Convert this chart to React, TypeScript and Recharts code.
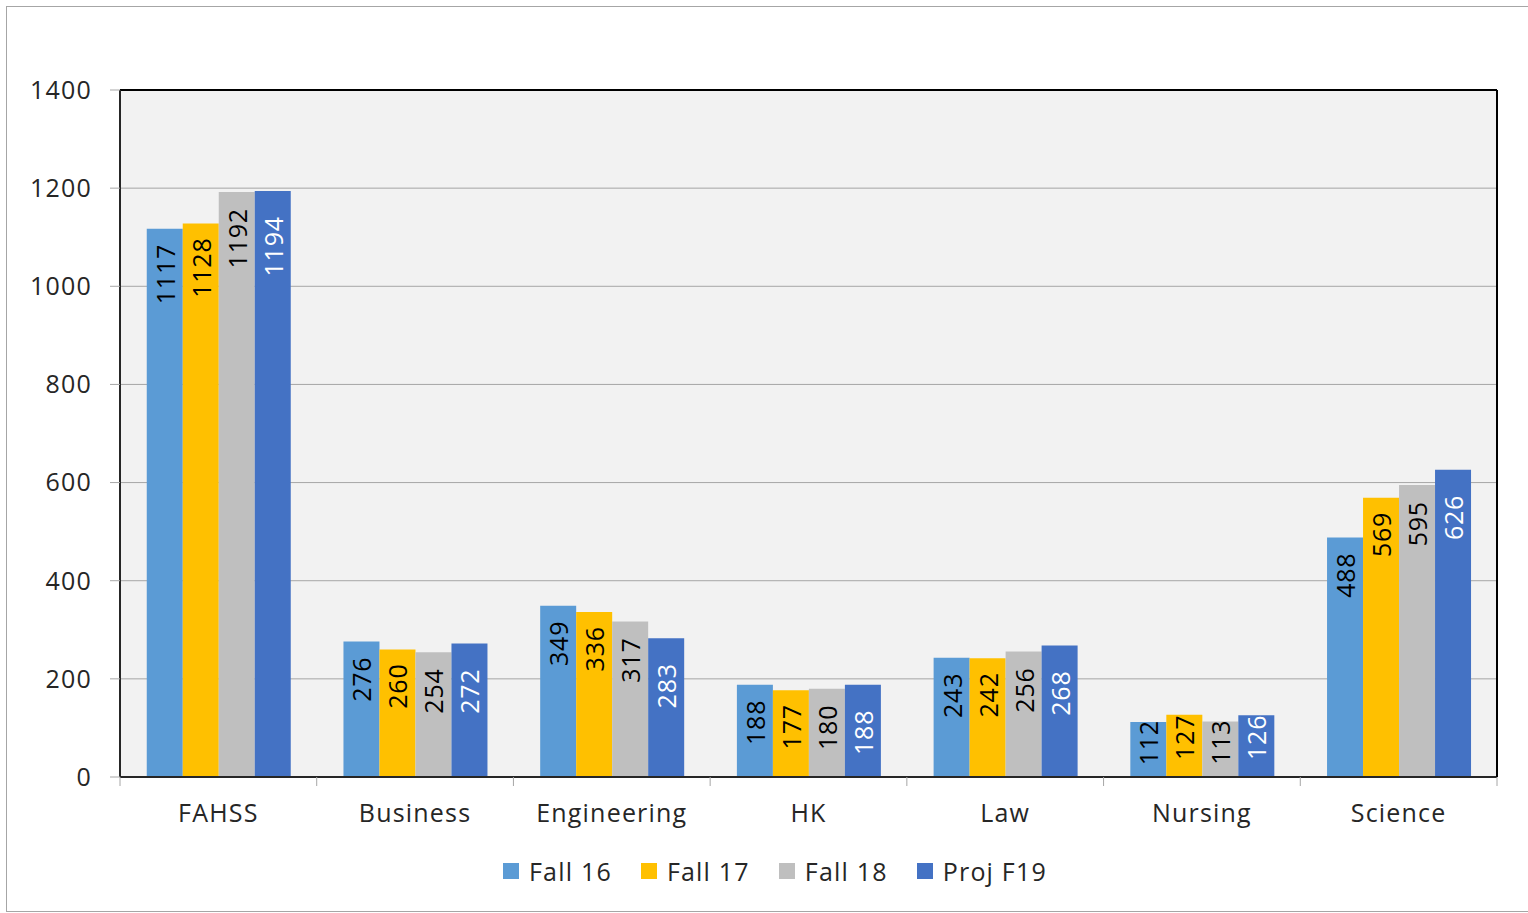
import React from "react";
import {
  Bar,
  BarChart,
  CartesianGrid,
  LabelList,
  Legend,
  ReferenceLine,
  XAxis,
  YAxis,
} from "recharts";

const faculties = ["FAHSS", "Business", "Engineering", "HK", "Law", "Nursing", "Science"];
const fall16 = [1117, 276, 349, 188, 243, 112, 488];
const fall17 = [1128, 260, 336, 177, 242, 127, 569];
const fall18 = [1192, 254, 317, 180, 256, 113, 595];
const projF19 = [1194, 272, 283, 188, 268, 126, 626];
const yTicks = [0, 200, 400, 600, 800, 1000, 1200, 1400];

const series = [
  { key: "fall16", name: "Fall 16", color: "#5b9bd5", text: "#000000", gap: 15 },
  { key: "fall17", name: "Fall 17", color: "#ffc000", text: "#000000", gap: 14 },
  { key: "fall18", name: "Fall 18", color: "#bfbfbf", text: "#000000", gap: 16 },
  { key: "projF19", name: "Proj F19", color: "#4472c4", text: "#ffffff", gap: 25 },
];

const data = faculties.map((faculty, i) => ({
  faculty,
  fall16: fall16[i],
  fall17: fall17[i],
  fall18: fall18[i],
  projF19: projF19[i],
}));

const FONT = "'Open Sans', 'Noto Sans', sans-serif";
const TEXT = "#262626";
const SPACING = 1.2;

// rotated value label, pinned near the bar top but kept inside short bars
function BarValue(props: any) {
  const { x, y, width, height, value, fill, gap } = props;
  const cx = Number(x) + Number(width) / 2;
  const top = Number(y);
  const bottom = top + Number(height);
  const len = String(value).length * (25 * 0.572 + 0.8);
  let ty = top + gap;
  if (ty + len > bottom - 17) ty = Math.max(top - 2, bottom - 17 - len);
  return (
    <text
      x={cx}
      y={ty}
      transform={`rotate(-90 ${cx} ${ty})`}
      textAnchor="end"
      dominantBaseline="central"
      fill={fill}
      fontSize={25}
      letterSpacing={0.8}
      fontFamily={FONT}
    >
      {value}
    </text>
  );
}

function CategoryTick(props: any) {
  const { x, y, payload, index } = props;
  const half = payload.offset || 0;
  const axisY = y - 9;
  return (
    <g>
      <line x1={x - half} y1={axisY} x2={x - half} y2={axisY + 9} stroke="#a6a6a6" />
      {index === faculties.length - 1 && (
        <line x1={x + half} y1={axisY} x2={x + half} y2={axisY + 9} stroke="#a6a6a6" />
      )}
      <text
        x={x}
        y={y + 26}
        textAnchor="middle"
        dominantBaseline="central"
        fill={TEXT}
        fontSize={25}
        letterSpacing={SPACING}
        fontFamily={FONT}
      >
        {payload.value}
      </text>
    </g>
  );
}

function LegendBox() {
  return (
    <div style={{ display: "flex", alignItems: "center", height: 32, fontFamily: FONT }}>
      {series.map((s, i) => (
        <div
          key={s.key}
          style={{ display: "flex", alignItems: "center", marginLeft: i === 0 ? 0 : 29 }}
        >
          <span style={{ width: 16, height: 16, background: s.color, display: "inline-block" }} />
          <span style={{ marginLeft: 10, fontSize: 25, color: TEXT, letterSpacing: SPACING }}>
            {s.name}
          </span>
        </div>
      ))}
    </div>
  );
}

export default function App() {
  return (
    <div style={{ position: "absolute", left: 0, top: 0, width: 1528, height: 913, background: "#fff" }}>
      <div
        style={{
          position: "absolute",
          left: 6,
          top: 6,
          width: 1530,
          height: 904,
          border: "1px solid #a6a6a6",
        }}
      />
      <div style={{ position: "absolute", left: 0, top: 0 }}>
        <BarChart
          width={1528}
          height={913}
          data={data}
          margin={{ top: 90, right: 0, bottom: 24, left: 0 }}
          barCategoryGap="13.6%"
          barGap={0}
          style={{ fontFamily: FONT }}
        >
          <CartesianGrid vertical={false} stroke="#a6a6a6" fill="#f2f2f2" />
          <XAxis
            dataKey="faculty"
            height={80}
            tickSize={9}
            tickMargin={0}
            tickLine={false}
            axisLine={{ stroke: "#262626", strokeWidth: 2 }}
            tick={<CategoryTick />}
            interval={0}
          />
          <YAxis
            width={120}
            domain={[0, 1400]}
            ticks={yTicks}
            tickSize={10}
            tickMargin={18}
            tickLine={{ stroke: "#a6a6a6" }}
            axisLine={{ stroke: "#262626", strokeWidth: 2 }}
            tick={{ fill: TEXT, fontSize: 25, fontFamily: FONT, letterSpacing: SPACING }}
          />
          <YAxis
            yAxisId="r"
            orientation="right"
            width={31}
            domain={[0, 1400]}
            tick={false}
            tickLine={false}
            axisLine={{ stroke: "#000", strokeWidth: 2 }}
          />
          <ReferenceLine y={1400} stroke="#000" strokeWidth={2} />
          <Legend
            verticalAlign="bottom"
            content={<LegendBox />}
            wrapperStyle={{ left: 503, top: 855, width: "auto", height: 32 }}
          />
          {series.map((s) => (
            <Bar key={s.key} dataKey={s.key} name={s.name} fill={s.color} isAnimationActive={false}>
              <LabelList
                dataKey={s.key}
                content={(p: any) => <BarValue {...p} fill={s.text} gap={s.gap} />}
              />
            </Bar>
          ))}
        </BarChart>
      </div>
    </div>
  );
}
